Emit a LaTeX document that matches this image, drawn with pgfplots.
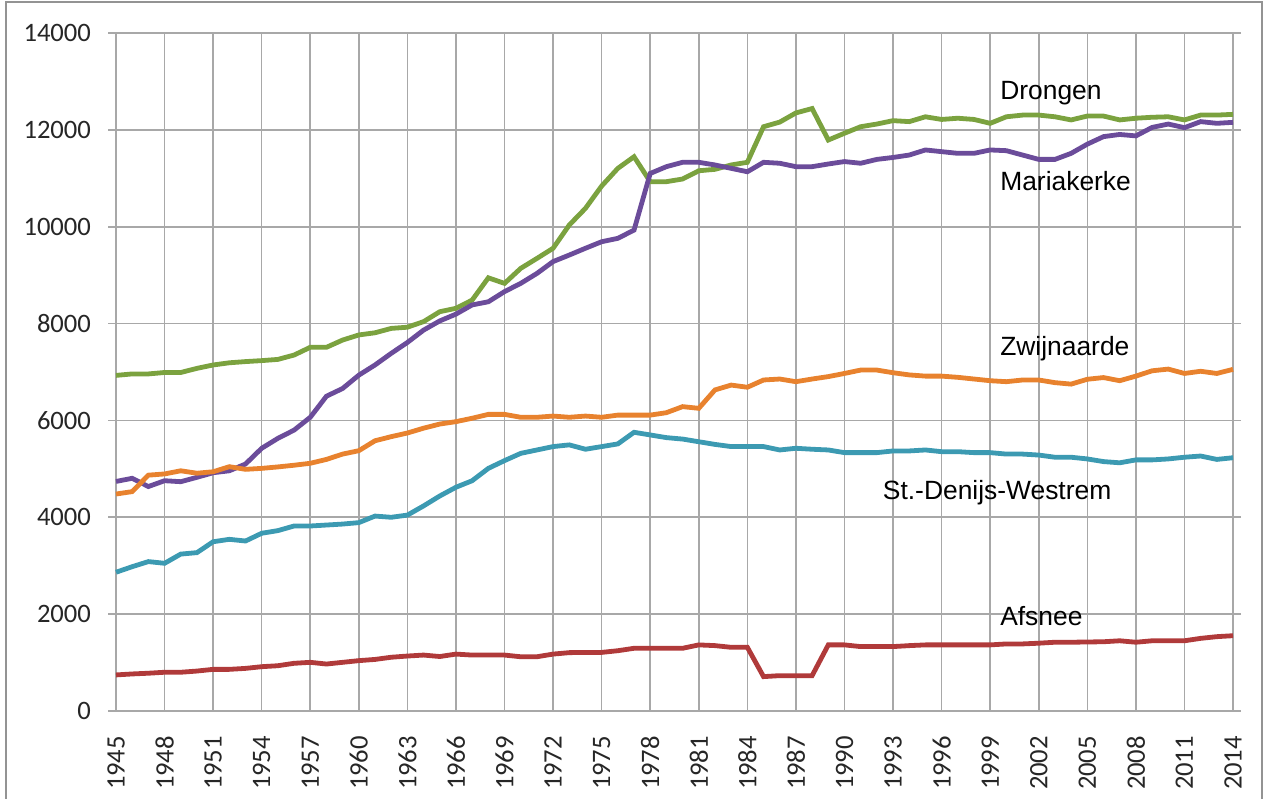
\documentclass[border=0pt]{standalone}
\usepackage{pgfplots}
\pgfplotsset{compat=1.18}
\usepackage{pgfplotstable}
\usepackage{fontspec}
\setmainfont{Liberation Sans}
\newfontfamily\calib{Carlito}
\definecolor{cGreen}{HTML}{7BA23F}
\definecolor{cPurple}{HTML}{6B4C9A}
\definecolor{cOrange}{HTML}{E8822E}
\definecolor{cTeal}{HTML}{3C9AB2}
\definecolor{cRed}{HTML}{B03A3A}
\definecolor{cGrid}{HTML}{A8A8A8}
\pgfplotstableread{
year drongen mariakerke zwijnaarde sdw afsnee
1945 6930 4740 4480 2865 745
1946 6960 4805 4530 2980 765
1947 6960 4635 4870 3085 780
1948 6990 4755 4895 3050 800
1949 6990 4735 4960 3240 800
1950 7075 4825 4910 3270 825
1951 7145 4920 4940 3495 860
1952 7190 4960 5045 3545 860
1953 7215 5100 4990 3510 880
1954 7235 5425 5010 3670 915
1955 7260 5630 5040 3725 935
1956 7350 5800 5075 3820 985
1957 7510 6065 5115 3820 1005
1958 7510 6500 5195 3840 970
1959 7660 6660 5305 3860 1005
1960 7765 6935 5375 3890 1040
1961 7810 7145 5580 4025 1065
1962 7900 7385 5665 4000 1110
1963 7925 7610 5740 4045 1135
1964 8040 7865 5840 4235 1155
1965 8245 8055 5925 4440 1125
1966 8315 8195 5975 4620 1175
1967 8485 8385 6045 4755 1155
1968 8945 8450 6125 5010 1155
1969 8830 8660 6125 5170 1155
1970 9140 8830 6065 5320 1120
1971 9345 9035 6065 5390 1120
1972 9555 9280 6090 5460 1175
1973 10035 9415 6065 5495 1205
1974 10380 9555 6090 5405 1210
1975 10840 9690 6065 5460 1210
1976 11205 9760 6110 5515 1245
1977 11445 9930 6110 5755 1295
1978 10930 11100 6110 5700 1295
1979 10930 11240 6160 5645 1295
1980 10985 11330 6285 5615 1295
1981 11155 11330 6250 5560 1365
1982 11185 11275 6630 5505 1350
1983 11275 11205 6730 5460 1315
1984 11330 11135 6685 5460 1315
1985 12065 11330 6835 5460 710
1986 12160 11310 6855 5390 730
1987 12350 11240 6800 5425 730
1988 12440 11240 6855 5405 730
1989 11790 11295 6905 5390 1365
1990 11930 11345 6970 5335 1365
1991 12065 11310 7040 5335 1330
1992 12120 11390 7040 5335 1330
1993 12190 11430 6985 5370 1330
1994 12170 11480 6940 5370 1350
1995 12270 11585 6915 5390 1365
1996 12215 11550 6915 5355 1365
1997 12240 11515 6890 5355 1365
1998 12215 11515 6855 5335 1365
1999 12135 11585 6820 5335 1365
2000 12270 11570 6800 5305 1385
2001 12305 11480 6835 5305 1385
2002 12305 11390 6835 5285 1400
2003 12270 11390 6780 5240 1420
2004 12205 11515 6750 5240 1420
2005 12285 11705 6850 5205 1425
2006 12285 11860 6885 5150 1430
2007 12205 11905 6820 5125 1450
2008 12240 11875 6915 5185 1420
2009 12260 12050 7025 5185 1450
2010 12270 12120 7060 5205 1450
2011 12205 12045 6970 5240 1450
2012 12305 12170 7015 5265 1500
2013 12305 12135 6970 5195 1535
2014 12320 12155 7055 5230 1555
}\datatable
\begin{document}
\begin{tikzpicture}
\useasboundingbox (0,0) rectangle (634pt,399pt);
\draw[color=gray!85, line width=1pt] (3pt,-3pt) -- (3pt,398pt) -- (630.8pt,398pt) -- (630.8pt,-3pt);
\begin{axis}[
  at={(58pt,43.5pt)}, anchor=south west,
  scale only axis, width=558.5pt, height=339pt,
  xmin=1945, xmax=2014, ymin=0, ymax=14000,
  xtick={1945,1948,...,2014},
  ytick={0,2000,...,14000},
  scaled y ticks=false,
  /pgf/number format/1000 sep={},
  /pgf/number format/assume math mode=true,
  grid=major,
  major grid style={color=cGrid, line width=0.8pt},
  axis line style={color=cGrid, line width=0.8pt},
  tick align=outside,
  major tick length=4pt,
  xtick style={draw=none},
  ytick style={color=cGrid, line width=0.8pt},
  ticklabel style={font=\calib\fontsize{13.3}{13.3}\selectfont, text=black!85},
  yticklabel style={anchor=east, xshift=-5pt},
  xticklabel style={yshift=-5pt, rotate=90, anchor=east},
  clip=false,
]
\addplot[cGreen, line width=2.4pt] table[x=year, y=drongen] {\datatable};
\addplot[cPurple, line width=2.4pt] table[x=year, y=mariakerke] {\datatable};
\addplot[cOrange, line width=2.4pt] table[x=year, y=zwijnaarde] {\datatable};
\addplot[cTeal, line width=2.4pt] table[x=year, y=sdw] {\datatable};
\addplot[cRed, line width=2.4pt] table[x=year, y=afsnee] {\datatable};
\begin{scope}[every node/.style={anchor=base west, inner sep=0pt, font=\fontsize{13.2}{13.2}\selectfont}]
\node at (axis cs:1999.6,12631) {Drongen};
\node at (axis cs:1999.6,10758) {Mariakerke};
\node at (axis cs:1999.6,7351) {Zwijnaarde};
\node at (axis cs:1992.35,4357) {St.-Denijs-Westrem};
\node at (axis cs:1999.6,1761) {Afsnee};
\end{scope}
\end{axis}
\end{tikzpicture}
\end{document}
